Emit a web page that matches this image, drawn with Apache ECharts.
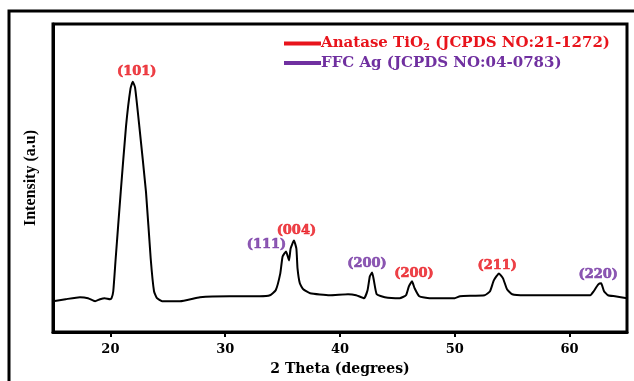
<!DOCTYPE html>
<html>
<head>
<meta charset="utf-8">
<script src="https://cdn.jsdelivr.net/npm/echarts@6/dist/echarts.min.js"></script>
<style>
  html, body { margin: 0; padding: 0; background: #fff; }
  #chart { width: 634px; height: 381px; }
</style>
</head>
<body>
<div id="chart"></div>
<script>
// 2 theta (degrees) and intensity (a.u., arbitrary scale)
var theta = [15.0, 16.1, 17.35, 18.05, 18.66, 19.1, 19.5, 19.97, 20.1, 20.25, 20.46, 20.9, 21.36, 21.75, 21.95,
  22.15, 22.52, 23.1, 23.51, 23.8, 24.06, 24.5, 26.06, 27.8, 30.4, 33.0, 33.9, 34.4, 34.8, 35.0,
  35.3, 35.56, 35.7, 35.99, 36.2, 36.3, 36.5, 36.8, 37.4, 39.1, 40.7, 41.4, 42.1, 42.4, 42.6, 42.8, 42.95,
  43.2, 43.9, 45.2, 45.75, 46.0, 46.27, 46.5, 46.9, 47.8, 50.0, 50.45, 52.6, 53.07, 53.4, 53.85, 54.2, 54.55,
  55.0, 56.1, 61.8, 62.1, 62.5, 62.75, 63.0, 63.35, 63.95, 65.0]
var intensity = [31, 33, 35, 34, 31, 33, 34, 33, 34, 41, 74, 141, 207, 245, 252,
  246, 207, 141, 74, 41, 34, 31, 31, 35, 36, 36, 37, 42, 59, 76,
  81, 72, 84, 92, 84, 64, 49, 43, 39, 37, 38, 37, 34, 42, 56, 60, 52,
  38, 35, 34, 37, 46, 51, 44, 36, 34, 34, 36, 37, 41, 52, 59, 54, 43,
  38, 37, 37, 41, 48, 49, 41, 37, 36, 34]

// peak labels: [theta, intensity, text, phase]
var peakLabels = [
  [22.3, 262, '(101)', 'TiO2'],
  [33.6, 88, '(111)', 'Ag'],
  [36.2, 102, '(004)', 'TiO2'],
  [42.35, 69, '(200)', 'Ag'],
  [46.45, 59, '(200)', 'TiO2'],
  [53.7, 67, '(211)', 'TiO2'],
  [62.5, 58, '(220)', 'Ag']
]
var xTicks = [20, 30, 40, 50, 60]

var RED = '#e8141c'
var PURPLE = '#7030a0'
var FONT = '"DejaVu Serif", "Liberation Serif", serif'
var NARROW = '"Liberation Serif", serif'

var chart = echarts.init(document.getElementById('chart'))

var lineData = theta.map(function(t, i) { return [t, intensity[i]] })
var labelData = peakLabels.map(function(p) {
  var c = p[3] === 'Ag' ? PURPLE : RED
  return {
    value: [p[0], p[1]],
    name: p[2],
    label: { color: c, textBorderColor: c, textBorderWidth: 0.6 }
  }
})

chart.setOption({
  animation: false,
  backgroundColor: '#fff',
  graphic: [
    {
      type: 'rect',
      shape: { x: 9, y: 11, width: 640, height: 400 },
      style: { fill: 'none', stroke: '#000', lineWidth: 3 },
      silent: true
    }
  ],
  grid: {
    left: 53,
    right: 7,
    top: 24,
    bottom: 47,
    show: true,
    borderColor: '#000',
    borderWidth: 3
  },
  legend: {
    data: [
      { name: 'Anatase', textStyle: { color: RED } },
      { name: 'Ag', textStyle: { color: PURPLE } }
    ],
    orient: 'vertical',
    left: 279,
    top: 31,
    itemWidth: 37,
    itemHeight: 4,
    itemGap: 3,
    icon: 'rect',
    formatter: function(name) {
      if (name === 'Anatase') {
        return '{a|Anatase TiO}{s|2}{a| (JCPDS NO:21-1272)}'
      }
      return '{a|FFC Ag (JCPDS NO:04-0783)}'
    },
    textStyle: {
      fontFamily: FONT,
      fontWeight: 'bold',
      fontSize: 15,
      padding: [0, 0, 0, -5],
      rich: {
        a: { fontFamily: FONT, fontWeight: 'bold', fontSize: 15 },
        s: { fontFamily: FONT, fontWeight: 'bold', fontSize: 10, padding: [8, 0, 0, 0] }
      }
    }
  },
  xAxis: {
    type: 'value',
    min: 15,
    max: 65,
    interval: 5,
    name: '2 Theta (degrees)',
    nameLocation: 'middle',
    nameGap: 30,
    nameTextStyle: { fontFamily: FONT, fontWeight: 'bold', fontSize: 14, color: '#000' },
    splitLine: { show: false },
    axisLine: { lineStyle: { color: '#000', width: 3 } },
    axisTick: { customValues: xTicks, length: 5, lineStyle: { color: '#000', width: 2 } },
    axisLabel: {
      customValues: xTicks,
      margin: 11,
      fontFamily: FONT,
      fontWeight: 'bold',
      fontSize: 13,
      color: '#000'
    }
  },
  yAxis: {
    type: 'value',
    min: 0,
    max: 310,
    name: 'Intensity (a.u)',
    nameLocation: 'middle',
    nameGap: 14,
    nameTextStyle: { fontFamily: NARROW, fontWeight: 'bold', fontSize: 16, color: '#000' },
    splitLine: { show: false },
    axisLine: { show: true, lineStyle: { color: '#000', width: 3 } },
    axisTick: { show: false },
    axisLabel: { show: false }
  },
  series: [
    {
      name: 'XRD',
      type: 'line',
      data: lineData,
      smooth: 0.15,
      showSymbol: false,
      lineStyle: { color: '#000', width: 2 },
      z: 3
    },
    {
      name: 'peaks',
      type: 'scatter',
      data: labelData,
      symbolSize: 0,
      label: {
        show: true,
        position: 'inside',
        formatter: '{b}',
        fontFamily: FONT,
        fontWeight: 'bold',
        fontSize: 13
      },
      z: 4
    },
    { name: 'Anatase', type: 'line', data: [], itemStyle: { color: RED }, lineStyle: { color: RED } },
    { name: 'Ag', type: 'line', data: [], itemStyle: { color: PURPLE }, lineStyle: { color: PURPLE } }
  ]
})
</script>
</body>
</html>
